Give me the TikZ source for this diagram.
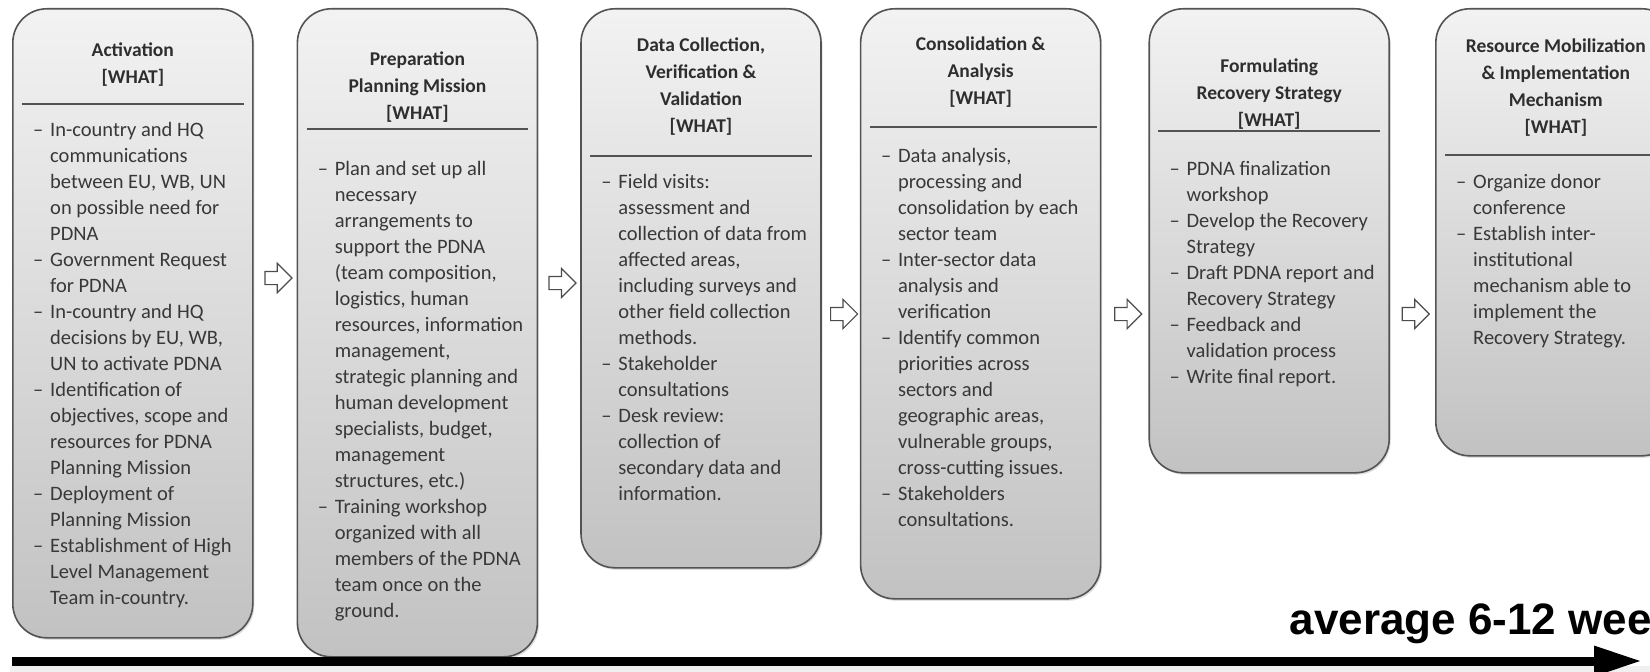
\documentclass[tikz,border=0pt]{standalone}
\usepackage{fontspec}
\setmainfont{Carlito}
\newfontfamily\arialfont{Liberation Sans}
\usetikzlibrary{positioning,calc,shapes.arrows,arrows.meta,shadows}

\newcommand{\itm}{\makebox[17bp][l]{--}}
\newcommand{\ind}{\hspace*{17bp}}

\tikzset{
  stage/.style={draw=gray!65!black, line width=1.6bp, rounded corners=34bp,
    top color=gray!10, bottom color=gray!48, minimum width=240bp, inner sep=0pt,
    anchor=north west,
    drop shadow={opacity=0.25, shadow xshift=1.5bp, shadow yshift=-2bp}},
  stagetitle/.style={font=\fontsize{19.5bp}{27bp}\selectfont\bfseries, text=black!82,
    align=center, inner sep=0pt, anchor=north},
  stageitems/.style={font=\fontsize{20.5bp}{26bp}\selectfont, text=black!78,
    align=left, inner sep=0pt, anchor=north west},
  sepline/.style={draw=gray!65!black, line width=2.5bp},
  hollow/.style={single arrow, draw=gray!60!black, fill=white, line width=1.2bp,
    inner sep=6bp, minimum height=27bp, single arrow head extend=8bp}
}

\begin{document}
\begin{tikzpicture}[x=1bp,y=-1bp,node distance=43bp]
  \useasboundingbox (0,0) rectangle (1650,672);
  \clip (0,0) rectangle (1650,672);
  \fill[white] (0,0) rectangle (1650,672);
  \fill[gray!12] (10,666) rectangle (1650,672);

  % the six stages
  \node[stage, minimum height=629bp] (act) at (12,8) {};
  \node[stage, minimum height=648bp, right=43bp of act.north east, anchor=north west] (prep) {};
  \node[stage, minimum height=559bp, right=42bp of prep.north east, anchor=north west] (coll) {};
  \node[stage, minimum height=590bp, right=38bp of coll.north east, anchor=north west] (cons) {};
  \node[stage, minimum height=464bp, right=47bp of cons.north east, anchor=north west] (form) {};
  \node[stage, minimum height=447bp, right=45bp of form.north east, anchor=north west] (mob) {};

  % Activation
  \node[stagetitle] (actT) at ($(act.north)+(0,35)$) {Activation\\{[WHAT]}};
  \draw[sepline] ($(act.north west)+(10,96)$) -- ($(act.north east)+(-10,96)$);
  \node[stageitems] (actL) at ($(act.north west)+(21,114)$) {%
    \itm In-country and HQ\\
    \ind communications\\
    \ind between EU, WB, UN\\
    \ind on possible need for\\
    \ind PDNA\\
    \itm Government Request\\
    \ind for PDNA\\
    \itm In-country and HQ\\
    \ind decisions by EU, WB,\\
    \ind UN to activate PDNA\\
    \itm Identification of\\
    \ind objectives, scope and\\
    \ind resources for PDNA\\
    \ind Planning Mission\\
    \itm Deployment of\\
    \ind Planning Mission\\
    \itm Establishment of High\\
    \ind Level Management\\
    \ind Team in-country.};

  % Preparation
  \node[stagetitle] (prepT) at ($(prep.north)+(0,44)$) {Preparation\\Planning Mission\\{[WHAT]}};
  \draw[sepline] ($(prep.north west)+(10,121)$) -- ($(prep.north east)+(-10,121)$);
  \node[stageitems] (prepL) at ($(prep.north west)+(21,153)$) {%
    \itm Plan and set up all\\
    \ind necessary\\
    \ind arrangements to\\
    \ind support the PDNA\\
    \ind (team composition,\\
    \ind logistics, human\\
    \ind resources, information\\
    \ind management,\\
    \ind strategic planning and\\
    \ind human development\\
    \ind specialists, budget,\\
    \ind management\\
    \ind structures, etc.)\\
    \itm Training workshop\\
    \ind organized with all\\
    \ind members of the PDNA\\
    \ind team once on the\\
    \ind ground.};

  % Data collection
  \node[stagetitle] (collT) at ($(coll.north)+(0,30)$) {Data Collection,\\Verification \&\\Validation\\{[WHAT]}};
  \draw[sepline] ($(coll.north west)+(10,148)$) -- ($(coll.north east)+(-10,148)$);
  \node[stageitems] (collL) at ($(coll.north west)+(21,166)$) {%
    \itm Field visits:\\
    \ind assessment and\\
    \ind collection of data from\\
    \ind affected areas,\\
    \ind including surveys and\\
    \ind other field collection\\
    \ind methods.\\
    \itm Stakeholder\\
    \ind consultations\\
    \itm Desk review:\\
    \ind collection of\\
    \ind secondary data and\\
    \ind information.};

  % Consolidation
  \node[stagetitle] (consT) at ($(cons.north)+(0,29)$) {Consolidation \&\\Analysis\\{[WHAT]}};
  \draw[sepline] ($(cons.north west)+(10,119)$) -- ($(cons.north east)+(-4,119)$);
  \node[stageitems] (consL) at ($(cons.north west)+(21,140)$) {%
    \itm Data analysis,\\
    \ind processing and\\
    \ind consolidation by each\\
    \ind sector team\\
    \itm Inter-sector data\\
    \ind analysis and\\
    \ind verification\\
    \itm Identify common\\
    \ind priorities across\\
    \ind sectors and\\
    \ind geographic areas,\\
    \ind vulnerable groups,\\
    \ind cross-cutting issues.\\
    \itm Stakeholders\\
    \ind consultations.};

  % Recovery strategy
  \node[stagetitle] (formT) at ($(form.north)+(0,51)$) {Formulating\\Recovery Strategy\\{[WHAT]}};
  \draw[sepline] ($(form.north west)+(10,123)$) -- ($(form.north east)+(-10,123)$);
  \node[stageitems] (formL) at ($(form.north west)+(21,153)$) {%
    \itm PDNA finalization\\
    \ind workshop\\
    \itm Develop the Recovery\\
    \ind Strategy\\
    \itm Draft PDNA report and\\
    \ind Recovery Strategy\\
    \itm Feedback and\\
    \ind validation process\\
    \itm Write final report.};

  % Resource mobilization
  \node[stagetitle] (mobT) at ($(mob.north)+(0,31)$) {Resource Mobilization\\\& Implementation\\Mechanism\\{[WHAT]}};
  \draw[sepline] ($(mob.north west)+(10,147)$) -- ($(mob.north east)+(-10,147)$);
  \node[stageitems] (mobL) at ($(mob.north west)+(21,166)$) {%
    \itm Organize donor\\
    \ind conference\\
    \itm Establish inter-\\
    \ind institutional\\
    \ind mechanism able to\\
    \ind implement the\\
    \ind Recovery Strategy.};

  % hollow arrows between stages
  \node[hollow] (a1) at ($(act.north east)!0.5!(prep.north west)+(0,270)$) {};
  \node[hollow] (a2) at ($(prep.north east)!0.5!(coll.north west)+(0,275)$) {};
  \node[hollow] (a3) at ($(coll.north east)!0.5!(cons.north west)+(0,306)$) {};
  \node[hollow] (a4) at ($(cons.north east)!0.5!(form.north west)+(0,306)$) {};
  \node[hollow] (a5) at ($(form.north east)!0.5!(mob.north west)+(0,306)$) {};

  % time line
  \coordinate (tl0) at (12,661);
  \coordinate (tl1) at (1642,661);
  \draw[line width=9bp, -{Triangle[length=48bp,width=28bp]}] (tl0) -- (tl1);
  \node[font=\arialfont\bfseries\fontsize{44bp}{48bp}\selectfont, anchor=base east,
    inner sep=0pt] (dur) at (1652,634) {average 6-12 wee};
\end{tikzpicture}
\end{document}
